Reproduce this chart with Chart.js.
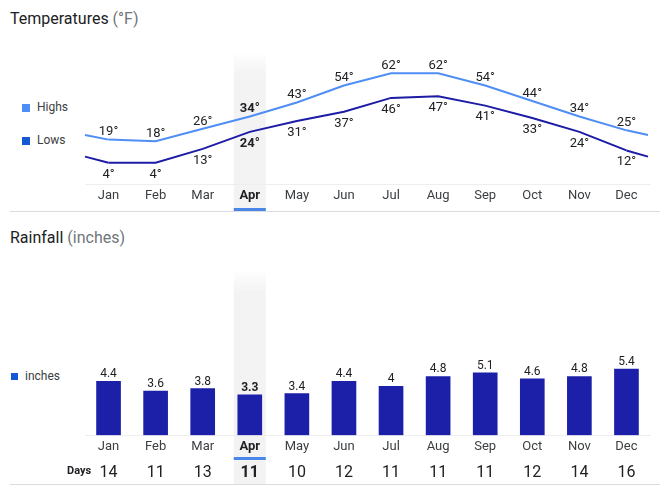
<!DOCTYPE html>
<html>
<head>
<meta charset="utf-8">
<script src="https://cdn.jsdelivr.net/npm/chart.js@4.4.0/dist/chart.umd.min.js"></script>
<style>
  body { margin: 0; background: #fff; font-family: Roboto, Arial, sans-serif; }
  #page { position: relative; width: 670px; height: 491px; overflow: hidden; }
  .title { position: absolute; left: 10px; font-size: 16px; line-height: 20px; color: #202124; }
  .title span { color: #70757a; }
  .leg { position: absolute; font-size: 12px; line-height: 14px; color: #3c4043; }
  .sq { position: absolute; }
  .rule { position: absolute; left: 10px; width: 650px; height: 1px; background: #dadce0; }
  .box { position: absolute; left: 0; width: 670px; }
  .days { position: absolute; left: 67px; top: 464px; font-size: 11px; font-weight: bold; color: #202124; }
</style>
</head>
<body>
<div id="page">
  <div class="title" style="top:9px">Temperatures <span>(°F)</span></div>
  <div class="sq" style="left:22px;top:104px;width:8px;height:8px;background:#4f8ef5"></div>
  <div class="leg" style="left:37px;top:100px">Highs</div>
  <div class="sq" style="left:22px;top:137px;width:8px;height:8px;background:#1558d6"></div>
  <div class="leg" style="left:37px;top:133px">Lows</div>
  <div class="box" style="top:40px;height:171px"><canvas id="temps"></canvas></div>
  <div class="rule" style="top:211px"></div>

  <div class="title" style="top:228px">Rainfall <span>(inches)</span></div>
  <div class="sq" style="left:11px;top:373px;width:7px;height:7px;background:#1558d6"></div>
  <div class="leg" style="left:25px;top:369px">inches</div>
  <div class="box" style="top:270px;height:221px"><canvas id="rain"></canvas></div>
  <div class="days">Days</div>
  <div class="rule" style="top:484px"></div>
</div>

<script>
// data
const months = ['Jan', 'Feb', 'Mar', 'Apr', 'May', 'Jun', 'Jul', 'Aug', 'Sep', 'Oct', 'Nov', 'Dec'];
const highs = [19, 18, 26, 34, 43, 54, 62, 62, 54, 44, 34, 25];
const lows = [4, 4, 13, 24, 31, 37, 46, 47, 41, 33, 24, 12];
const rainfall = [4.4, 3.6, 3.8, 3.3, 3.4, 4.4, 4, 4.8, 5.1, 4.6, 4.8, 5.4];
const rainDays = [14, 11, 13, 11, 10, 12, 11, 11, 11, 12, 14, 16];
const currentMonth = 3;

function tickFont(size) {
    return function(c) {
        return { family: 'Roboto', size: size, weight: c.index === currentMonth ? 'bold' : 'normal' };
    };
}
function tickColor(base) {
    return function(c) { return c.index === currentMonth ? '#202124' : base; };
}

// grey column + blue marker under the selected month
const highlightPlugin = {
    id: 'highlight',
    beforeDraw(chart, args, opts) {
        const ctx = chart.ctx;
        const x = chart.scales.x.getPixelForValue(currentMonth);
        const top = chart.chartArea.top + opts.fadeTop;
        const g = ctx.createLinearGradient(0, top, 0, top + 22);
        g.addColorStop(0, 'rgba(243,243,243,0)');
        g.addColorStop(1, '#f3f3f3');
        ctx.save();
        ctx.fillStyle = g;
        ctx.fillRect(x - 16, top, 32, opts.bandBottom - top);
        ctx.fillStyle = '#4a86e8';
        ctx.fillRect(x - 16, opts.lineY, 32, 3);
        ctx.restore();
    }
};

// the lines run on past Jan and Dec towards the mean of the two
const edgePlugin = {
    id: 'edges',
    beforeDatasetsDraw(chart) {
        const ctx = chart.ctx;
        const xs = chart.scales.x, ys = chart.scales.y;
        const area = chart.chartArea;
        chart.data.datasets.forEach(function(ds) {
            const d = ds.data;
            const last = d.length - 1;
            const yEdge = ys.getPixelForValue((d[0] + d[last]) / 2);
            ctx.save();
            ctx.strokeStyle = ds.borderColor;
            ctx.lineWidth = ds.borderWidth;
            ctx.beginPath();
            ctx.moveTo(area.left, yEdge);
            ctx.lineTo(xs.getPixelForValue(0), ys.getPixelForValue(d[0]));
            ctx.moveTo(xs.getPixelForValue(last), ys.getPixelForValue(d[last]));
            ctx.lineTo(area.right - 2, yEdge);
            ctx.stroke();
            ctx.restore();
        });
    }
};

const valueLabels = {
    id: 'valueLabels',
    afterDatasetsDraw(chart) {
        const ctx = chart.ctx;
        chart.data.datasets.forEach(function(ds, i) {
            const meta = chart.getDatasetMeta(i);
            meta.data.forEach(function(el, j) {
                const bold = j === currentMonth ? 'bold ' : '';
                ctx.save();
                ctx.font = bold + ds.labelSize + 'px Roboto';
                ctx.fillStyle = '#202124';
                ctx.textAlign = 'center';
                let y = el.y;
                if (ds.labelPos === 'below') {
                    ctx.textBaseline = 'top';
                    y += ds.labelGap;
                } else {
                    ctx.textBaseline = 'bottom';
                    y -= ds.labelGap;
                }
                ctx.fillText(ds.data[j] + (ds.suffix || ''), el.x, y);
                ctx.restore();
            });
        });
    }
};

new Chart(document.getElementById('temps'), {
    type: 'line',
    data: {
        labels: months,
        datasets: [{
            label: 'Highs',
            data: highs,
            borderColor: '#4f8ef5',
            borderWidth: 2,
            pointRadius: 0,
            labelPos: 'above',
            labelGap: 1,
            labelSize: 13,
            suffix: '°'
        }, {
            label: 'Lows',
            data: lows,
            borderColor: '#1c1ca6',
            borderWidth: 2,
            pointRadius: 0,
            labelPos: 'below',
            labelGap: 5,
            labelSize: 13,
            suffix: '°'
        }]
    },
    options: {
        responsive: true,
        maintainAspectRatio: false,
        animation: false,
        layout: { padding: { left: 85, right: 20, top: 0, bottom: 3 } },
        plugins: {
            legend: { display: false },
            tooltip: { enabled: false },
            highlight: { fadeTop: 12, bandBottom: 171, lineY: 168 }
        },
        scales: {
            x: {
                offset: true,
                grid: { display: false, drawTicks: false },
                border: { display: true, color: '#eeeeee' },
                ticks: { padding: 4, font: tickFont(13), color: tickColor('#3c4043') }
            },
            y: { display: false, min: -10, max: 83.5 }
        }
    },
    plugins: [highlightPlugin, edgePlugin, valueLabels]
});

new Chart(document.getElementById('rain'), {
    type: 'bar',
    data: {
        labels: months,
        datasets: [{
            label: 'inches',
            data: rainfall,
            backgroundColor: '#1c1fa8',
            barThickness: 24,
            labelPos: 'above',
            labelGap: 1,
            labelSize: 12
        }]
    },
    options: {
        responsive: true,
        maintainAspectRatio: false,
        animation: false,
        layout: { padding: { left: 85, right: 20, top: 0, bottom: 3 } },
        plugins: {
            legend: { display: false },
            tooltip: { enabled: false },
            highlight: { fadeTop: 0, bandBottom: 214, lineY: 187 }
        },
        scales: {
            x: {
                offset: true,
                grid: { display: false, drawTicks: false },
                border: { display: true, color: '#eeeeee' },
                ticks: { padding: 4, font: tickFont(13), color: tickColor('#3c4043') }
            },
            x2: {
                type: 'category',
                labels: rainDays.map(String),
                position: 'bottom',
                offset: true,
                grid: { display: false, drawTicks: false },
                border: { display: false },
                ticks: { padding: 5, font: tickFont(16), color: '#202124' }
            },
            y: { display: false, min: 0, max: 13.5 }
        }
    },
    plugins: [highlightPlugin, valueLabels]
});
</script>
</body>
</html>
